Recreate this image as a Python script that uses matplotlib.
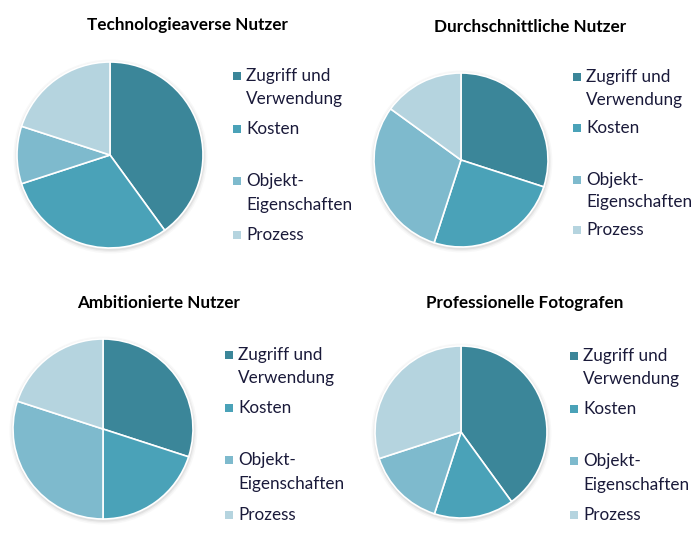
import matplotlib.pyplot as plt
from matplotlib.patches import Rectangle, Circle

# data (shares in %)
titles = ["Technologieaverse Nutzer", "Durchschnittliche Nutzer",
          "Ambitionierte Nutzer", "Professionelle Fotografen"]
legend_lines = ["Zugriff und", "Verwendung", "Kosten", "Objekt-", "Eigenschaften", "Prozess"]
technologieavers = [40, 30, 10, 20]
durchschnittlich = [30, 25, 30, 15]
ambitioniert = [30, 20, 30, 20]
professionell = [40, 15, 15, 30]
colors = ["#3B8699", "#4AA2B8", "#7EBACD", "#B5D4DF"]

W, H = 700, 539
plt.rcParams['font.family'] = ['Lato', 'DejaVu Sans']

fig = plt.figure(figsize=(7, 5.39), dpi=100)

# (values, center x, center y, radius, title x, title y, legend x, legend rows) in pixels
panels = [
    (technologieavers, 110, 155, 93, 187, 25, 246, [76, 99, 129, 181, 205, 235]),
    (durchschnittlich, 461, 160, 87, 530, 27, 586, [77, 100, 128, 180, 202, 230]),
    (ambitioniert, 103, 429, 90, 159, 303, 238, [355, 378, 408, 460, 484, 515]),
    (professionell, 461, 432, 86, 525, 303, 583, [356, 379, 409, 461, 485, 515]),
]

# which legend line carries the colour square of which slice
square_for_line = {0: 0, 2: 1, 3: 2, 5: 3}

for (vals, cx, cy, r, tx, ty, lx, rows), title in zip(panels, titles):
    pad = 6
    ax = fig.add_axes([(cx - r - pad) / W, 1 - (cy + r + pad) / H,
                       (2 * r + 2 * pad) / W, (2 * r + 2 * pad) / H])
    ax.set_aspect("equal")
    ax.axis("off")
    # soft shadow
    for k, a in [(4, 0.05), (2.5, 0.08), (1.2, 0.12)]:
        ax.add_patch(Circle((0.4 / r, -1.5 / r), 1 + k / r, color="#808080", alpha=a, lw=0))
    ax.pie(vals, colors=colors, startangle=90, counterclock=False, radius=1,
           wedgeprops=dict(edgecolor="white", linewidth=1.2))
    ax.set_xlim(-1 - pad / r, 1 + pad / r)
    ax.set_ylim(-1 - pad / r, 1 + pad / r)

    fig.text(tx / W, 1 - ty / H, title, ha="center", va="center",
             fontsize=12.3, fontweight="bold", color="black")

    for i, line in enumerate(legend_lines):
        y = rows[i]
        fig.text(lx / W, 1 - y / H, line, ha="left", va="center",
                 fontsize=12.3, color="#1A1A3A")
        if i in square_for_line:
            fig.patches.append(Rectangle(((lx - 13) / W, 1 - (y + 4) / H), 8 / W, 8 / H,
                                         transform=fig.transFigure,
                                         color=colors[square_for_line[i]], lw=0))

fig.savefig("out.png", dpi=100)
